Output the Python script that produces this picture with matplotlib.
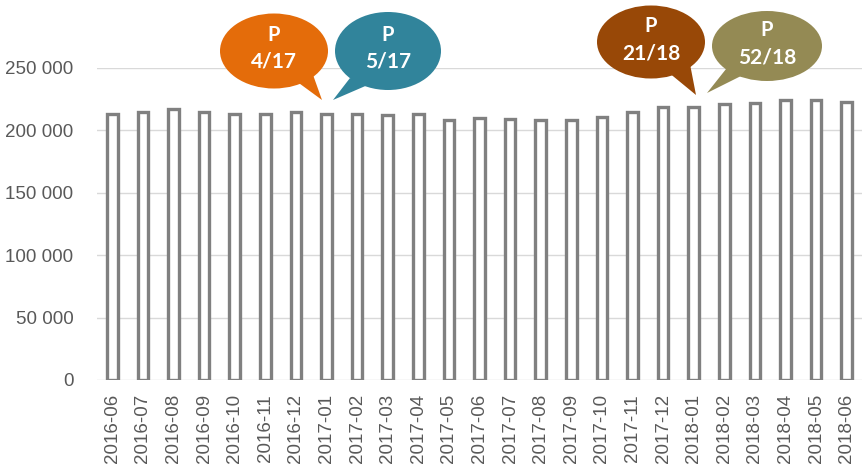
import matplotlib
matplotlib.use("Agg")
import matplotlib.pyplot as plt
from matplotlib.patches import Ellipse, Polygon

months = ["2016-06", "2016-07", "2016-08", "2016-09", "2016-10", "2016-11", "2016-12",
          "2017-01", "2017-02", "2017-03", "2017-04", "2017-05", "2017-06", "2017-07",
          "2017-08", "2017-09", "2017-10", "2017-11", "2017-12", "2018-01", "2018-02",
          "2018-03", "2018-04", "2018-05", "2018-06"]
values = [213000, 215000, 217000, 215000, 213000, 213000, 215000,
          213000, 213000, 212000, 213000, 208000, 210000, 209000,
          208000, 208000, 211000, 215000, 219000, 219000, 221000,
          222000, 224000, 224000, 223000]
y_ticks = [0, 50000, 100000, 150000, 200000, 250000]
y_tick_labels = ["0", "50 000", "100 000", "150 000", "200 000", "250 000"]

callout_lines = [("P", "4/17"), ("P", "5/17"), ("P", "21/18"), ("P", "52/18")]
callout_colors = ["#E46C0A", "#31849B", "#984807", "#948A54"]

W, H = 867, 472
fig = plt.figure(figsize=(W / 100, H / 100), dpi=100)
ax = fig.add_axes([97 / W, 1 - 380 / H, (862 - 97) / W, (380 - 68) / H])

x = list(range(len(months)))
ax.bar(x, values, width=0.34, color="white", edgecolor="#808080", linewidth=2.4, zorder=3)
ax.set_xlim(-0.5, len(months) - 0.5)
ax.set_ylim(0, 250000)
ax.set_yticks(y_ticks)
ax.set_yticklabels(y_tick_labels)
ax.set_xticks(x)
ax.set_xticklabels(months, rotation=90)
ax.grid(axis="y", color="#D9D9D9", linewidth=1, zorder=0)
for s in ax.spines.values():
    s.set_visible(False)
ax.tick_params(axis="both", length=0, colors="#595959", labelsize=13.5)
ax.tick_params(axis="y", pad=17)
ax.tick_params(axis="x", pad=10)
for lbl in ax.get_xticklabels() + ax.get_yticklabels():
    lbl.set_fontfamily("Liberation Sans")

# overlay in figure pixel coords for callouts
ov = fig.add_axes([0, 0, 1, 1], facecolor="none")
ov.set_xlim(0, W)
ov.set_ylim(H, 0)
ov.axis("off")

shapes = [
    ((274, 51), 108, 75, [(292, 78), (312, 72)], (322, 100)),
    ((388, 51), 106, 78, [(350, 78), (370, 84)], (333, 100)),
    ((651, 42), 108, 73, [(668, 72), (690, 64)], (696, 95)),
    ((767, 46), 110, 70, [(730, 64), (745, 74)], (707, 93)),
]
for (c, w, h, base, tip), col, (l1, l2) in zip(shapes, callout_colors, callout_lines):
    ov.add_patch(Ellipse(c, w, h, facecolor=col, edgecolor="none"))
    ov.add_patch(Polygon([base[0], tip, base[1]], closed=True, facecolor=col, edgecolor="none"))
    ov.text(c[0], c[1] - 16, l1, color="white", fontsize=14.5, fontweight="bold",
            ha="center", va="center", family="Lato")
    ov.text(c[0], c[1] + 11, l2, color="white", fontsize=15, fontweight="bold",
            ha="center", va="center", family="Lato")

fig.savefig("out.png", dpi=100)
